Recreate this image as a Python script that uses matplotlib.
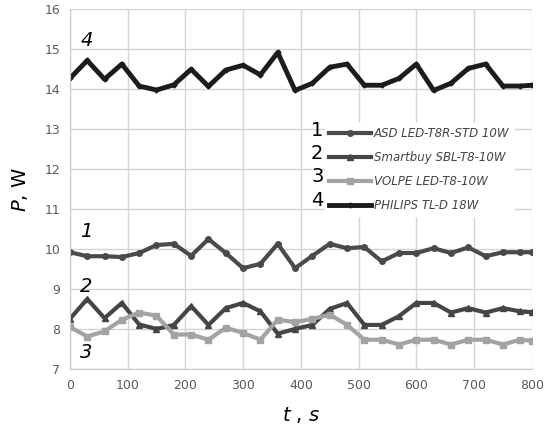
import numpy as np
import matplotlib.pyplot as plt
from matplotlib.lines import Line2D

# time, s (one reading every 30 s, last one at 800)
t = list(range(0, 790, 30)) + [800]

p_asd = [9.92, 9.82, 9.82, 9.80, 9.90, 10.10, 10.13, 9.83, 10.25, 9.90,
         9.52, 9.63, 10.13, 9.52, 9.83, 10.13, 10.02, 10.05, 9.69, 9.90,
         9.90, 10.02, 9.90, 10.04, 9.82, 9.92, 9.92, 9.92]
p_smartbuy = [8.25, 8.75, 8.27, 8.65, 8.11, 8.00, 8.10, 8.57, 8.10, 8.52,
              8.65, 8.44, 7.88, 8.00, 8.10, 8.50, 8.65, 8.10, 8.10, 8.32,
              8.65, 8.65, 8.41, 8.52, 8.41, 8.52, 8.44, 8.42]
p_volpe = [8.05, 7.81, 7.94, 8.23, 8.41, 8.33, 7.86, 7.86, 7.73, 8.03,
           7.90, 7.73, 8.23, 8.17, 8.25, 8.36, 8.10, 7.73, 7.73, 7.61,
           7.73, 7.73, 7.61, 7.73, 7.73, 7.61, 7.73, 7.70]
p_philips = [14.27, 14.72, 14.25, 14.63, 14.08, 13.98, 14.11, 14.50, 14.07, 14.48,
             14.60, 14.36, 14.92, 13.97, 14.15, 14.55, 14.63, 14.10, 14.10, 14.27,
             14.63, 13.97, 14.15, 14.52, 14.63, 14.08, 14.08, 14.10]

names = ['ASD LED-T8R-STD 10W', 'Smartbuy SBL-T8-10W', 'VOLPE LED-T8-10W', 'PHILIPS TL-D 18W']
numbers = ['1', '2', '3', '4']

fig = plt.figure(figsize=(5.46, 4.24), dpi=100)
ax = fig.add_axes([0.128, 0.13, 0.846, 0.848])

l1, = ax.plot(t, p_asd, color='#4a4a4a', lw=3, marker='o', ms=4)
l2, = ax.plot(t, p_smartbuy, color='#454545', lw=3, marker='^', ms=4)
l3, = ax.plot(t, p_volpe, color='#a3a3a3', lw=3, marker='s', ms=4)
l4, = ax.plot(t, p_philips, color='#1c1c1c', lw=3.5, marker='D', ms=2.5)

ax.set_xlim(0, 800)
ax.set_ylim(7, 16)
ax.set_xticks(range(0, 801, 100))
ax.set_yticks(range(7, 17))
ax.grid(True, color='#d4d4d4', lw=1)
ax.set_axisbelow(True)
for s in ['top', 'right']:
    ax.spines[s].set_visible(False)
for s in ['left', 'bottom']:
    ax.spines[s].set_color('#c8c8c8')
ax.tick_params(length=0, pad=7, labelsize=9, labelcolor='#5a5a5a')

ax.set_ylabel('$P$, W', fontsize=14, labelpad=10)
ax.set_xlabel('$t$ , $s$', fontsize=14, labelpad=10)

# legend with the numbers to its left
leg = ax.legend([l1, l2, l3, l4], names, loc='upper left', bbox_to_anchor=(0.54, 0.70),
                frameon=True, fancybox=False, framealpha=1, edgecolor='white',
                prop={'style': 'italic', 'size': 8.5}, handlelength=3.6,
                labelspacing=0.95, handletextpad=0.2, borderpad=0.3, labelcolor='#444444')
for i, n in enumerate(numbers):
    ax.text(0.522, 0.664 - i * 0.065, n, transform=ax.transAxes, fontsize=14,
            ha='left', va='center')

# curve labels
ax.text(18, 15.22, '4', fontsize=14, style='italic', va='center')
ax.text(18, 10.43, '1', fontsize=14, style='italic', va='center')
ax.text(18, 9.06, '2', fontsize=14, style='italic', va='center')
ax.text(18, 7.42, '3', fontsize=14, style='italic', va='center')

fig.savefig('out.png', dpi=100)
